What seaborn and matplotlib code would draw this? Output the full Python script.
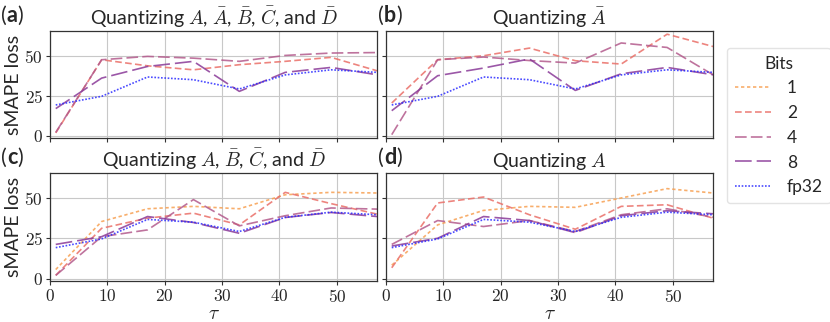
import numpy as np
import pandas as pd
import matplotlib
matplotlib.use("Agg")
import matplotlib.pyplot as plt
from matplotlib.ticker import FuncFormatter
from matplotlib.lines import Line2D
import seaborn as sns

sns.set_theme(style="whitegrid")
plt.rcParams["font.family"] = ["Lato", "DejaVu Sans"]
plt.rcParams["mathtext.fontset"] = "cm"

tau = [1, 9, 17, 25, 33, 41, 49, 57]
bits = ["1", "2", "4", "8", "fp32"]

fp32 = [19.2, 24.6, 36.7, 35.0, 29.2, 38.0, 41.2, 39.6]

# panel (a): Quantizing A, Abar, Bbar, Cbar, Dbar
a_2 = [1.7, 47.5, 43.7, 41.2, 44.4, 46.5, 49.0, 40.6]
a_4 = [2.0, 47.5, 49.6, 48.5, 46.5, 50.2, 51.7, 52.0]
a_8 = [16.9, 36.0, 43.3, 46.5, 27.7, 39.6, 42.7, 38.1]

# panel (b): Quantizing Abar
b_2 = [20.4, 47.5, 50.0, 54.8, 46.9, 44.8, 63.5, 55.8]
b_4 = [0.6, 47.5, 49.2, 47.0, 45.4, 58.0, 55.2, 38.1]
b_8 = [15.6, 37.5, 42.3, 48.0, 28.3, 38.7, 42.7, 38.1]

# panel (c): Quantizing A, Bbar, Cbar, Dbar
c_1 = [5.6, 35.4, 43.3, 44.8, 43.3, 52.0, 53.5, 53.1]
c_2 = [2.0, 31.2, 37.5, 40.6, 33.3, 53.5, 46.5, 40.0]
c_4 = [2.0, 26.0, 30.2, 49.0, 32.7, 39.0, 43.8, 43.1]
c_8 = [21.2, 26.0, 38.5, 34.8, 28.1, 37.9, 41.0, 38.5]

# panel (d): Quantizing A
d_1 = [8.3, 33.3, 42.3, 44.8, 44.2, 50.0, 55.8, 53.1]
d_2 = [6.7, 46.9, 50.6, 39.6, 30.6, 44.8, 45.8, 37.5]
d_4 = [21.2, 36.0, 32.3, 36.0, 29.2, 39.6, 43.3, 38.1]
d_8 = [20.2, 25.0, 38.5, 36.0, 28.5, 39.0, 42.1, 40.2]

titles = [
    r"Quantizing $A$, $\bar{A}$, $\bar{B}$, $\bar{C}$, and $\bar{D}$",
    r"Quantizing $\bar{A}$",
    r"Quantizing $A$, $\bar{B}$, $\bar{C}$, and $\bar{D}$",
    r"Quantizing $A$",
]
labels = ["a", "b", "c", "d"]

panels = [
    {"2": a_2, "4": a_4, "8": a_8, "fp32": fp32},
    {"2": b_2, "4": b_4, "8": b_8, "fp32": fp32},
    {"1": c_1, "2": c_2, "4": c_4, "8": c_8, "fp32": fp32},
    {"1": d_1, "2": d_2, "4": d_4, "8": d_8, "fp32": fp32},
]

palette = {"1": "#f7a052", "2": "#ea6f68", "4": "#b35a8c", "8": "#8a3a98", "fp32": "#2b2bff"}
dashes = {"1": (2, 1.6), "2": (4, 2), "4": (7, 2.5), "8": (10, 3), "fp32": (1, 1)}

fig = plt.figure(figsize=(8.3, 3.22), dpi=100)
W, H = 830, 322
boxes = [(50, 31, 327, 107), (386, 31, 327, 107), (50, 173, 327, 108), (386, 173, 327, 108)]

fmt = FuncFormatter(lambda v, p: f"${v:g}$")
for i, (bx, by, bw, bh) in enumerate(boxes):
    ax = fig.add_axes([bx / W, 1 - (by + bh) / H, bw / W, bh / H])
    rows = []
    for b, vals in panels[i].items():
        for t, v in zip(tau, vals):
            rows.append({"tau": t, "loss": v, "Bits": b})
    df = pd.DataFrame(rows)
    present = [b for b in bits if b in panels[i]]
    sns.lineplot(data=df, x="tau", y="loss", hue="Bits", style="Bits",
                 hue_order=present, style_order=present,
                 palette={k: palette[k] for k in present},
                 dashes={k: dashes[k] for k in present},
                 linewidth=1.2, alpha=0.85, ax=ax, legend=False)
    ax.set_xlim(0, 57)
    ax.set_ylim(-1.5, 65.5)
    ax.set_xticks([0, 10, 20, 30, 40, 50])
    ax.set_yticks([0, 25, 50])
    ax.xaxis.set_major_formatter(fmt)
    ax.yaxis.set_major_formatter(fmt)
    ax.grid(True, color="#c8c8c8", linewidth=0.8)
    for s in ax.spines.values():
        s.set_color("#333333")
        s.set_linewidth(0.9)
    ax.tick_params(axis="both", which="both", bottom=True, left=True, length=3,
                   width=0.8, color="#333333", labelsize=12.5, pad=2)
    ax.set_title(titles[i], fontsize=14, pad=4)
    if i < 2:
        ax.set_xticklabels([])
        ax.set_xlabel("")
    else:
        ax.set_xlabel(r"$\tau$", fontsize=14, labelpad=0)
    if i % 2 == 1:
        ax.set_yticklabels([])
        ax.set_ylabel("")
    else:
        ax.set_ylabel("sMAPE loss", fontsize=14, labelpad=2)
    lx = 1 if i % 2 == 0 else 378
    ly = by - 15
    t1 = fig.text(lx / W, 1 - ly / H, "(", fontsize=15.5, va="center", ha="left")
    a2 = ax.annotate(labels[i], xy=(1, 0), xycoords=t1, va="bottom", ha="left",
                     fontsize=15.5, fontweight="bold", annotation_clip=False)
    ax.annotate(")", xy=(1, 0), xycoords=a2, va="bottom", ha="left",
                fontsize=15.5, annotation_clip=False)

handles = [Line2D([0], [0], color=palette[b], dashes=dashes[b], linewidth=1.2, alpha=0.85)
           for b in bits]
leg = fig.legend(handles, bits, title="Bits", loc="upper left",
                 bbox_to_anchor=(727 / W, 1 - 48 / H), fontsize=12.5, title_fontsize=12.5,
                 frameon=True, handlelength=2.1, handletextpad=0.9, labelspacing=0.5,
                 borderpad=0.45, borderaxespad=0.0)
leg.get_frame().set_edgecolor("#dddddd")

fig.savefig("out.png", dpi=100)
